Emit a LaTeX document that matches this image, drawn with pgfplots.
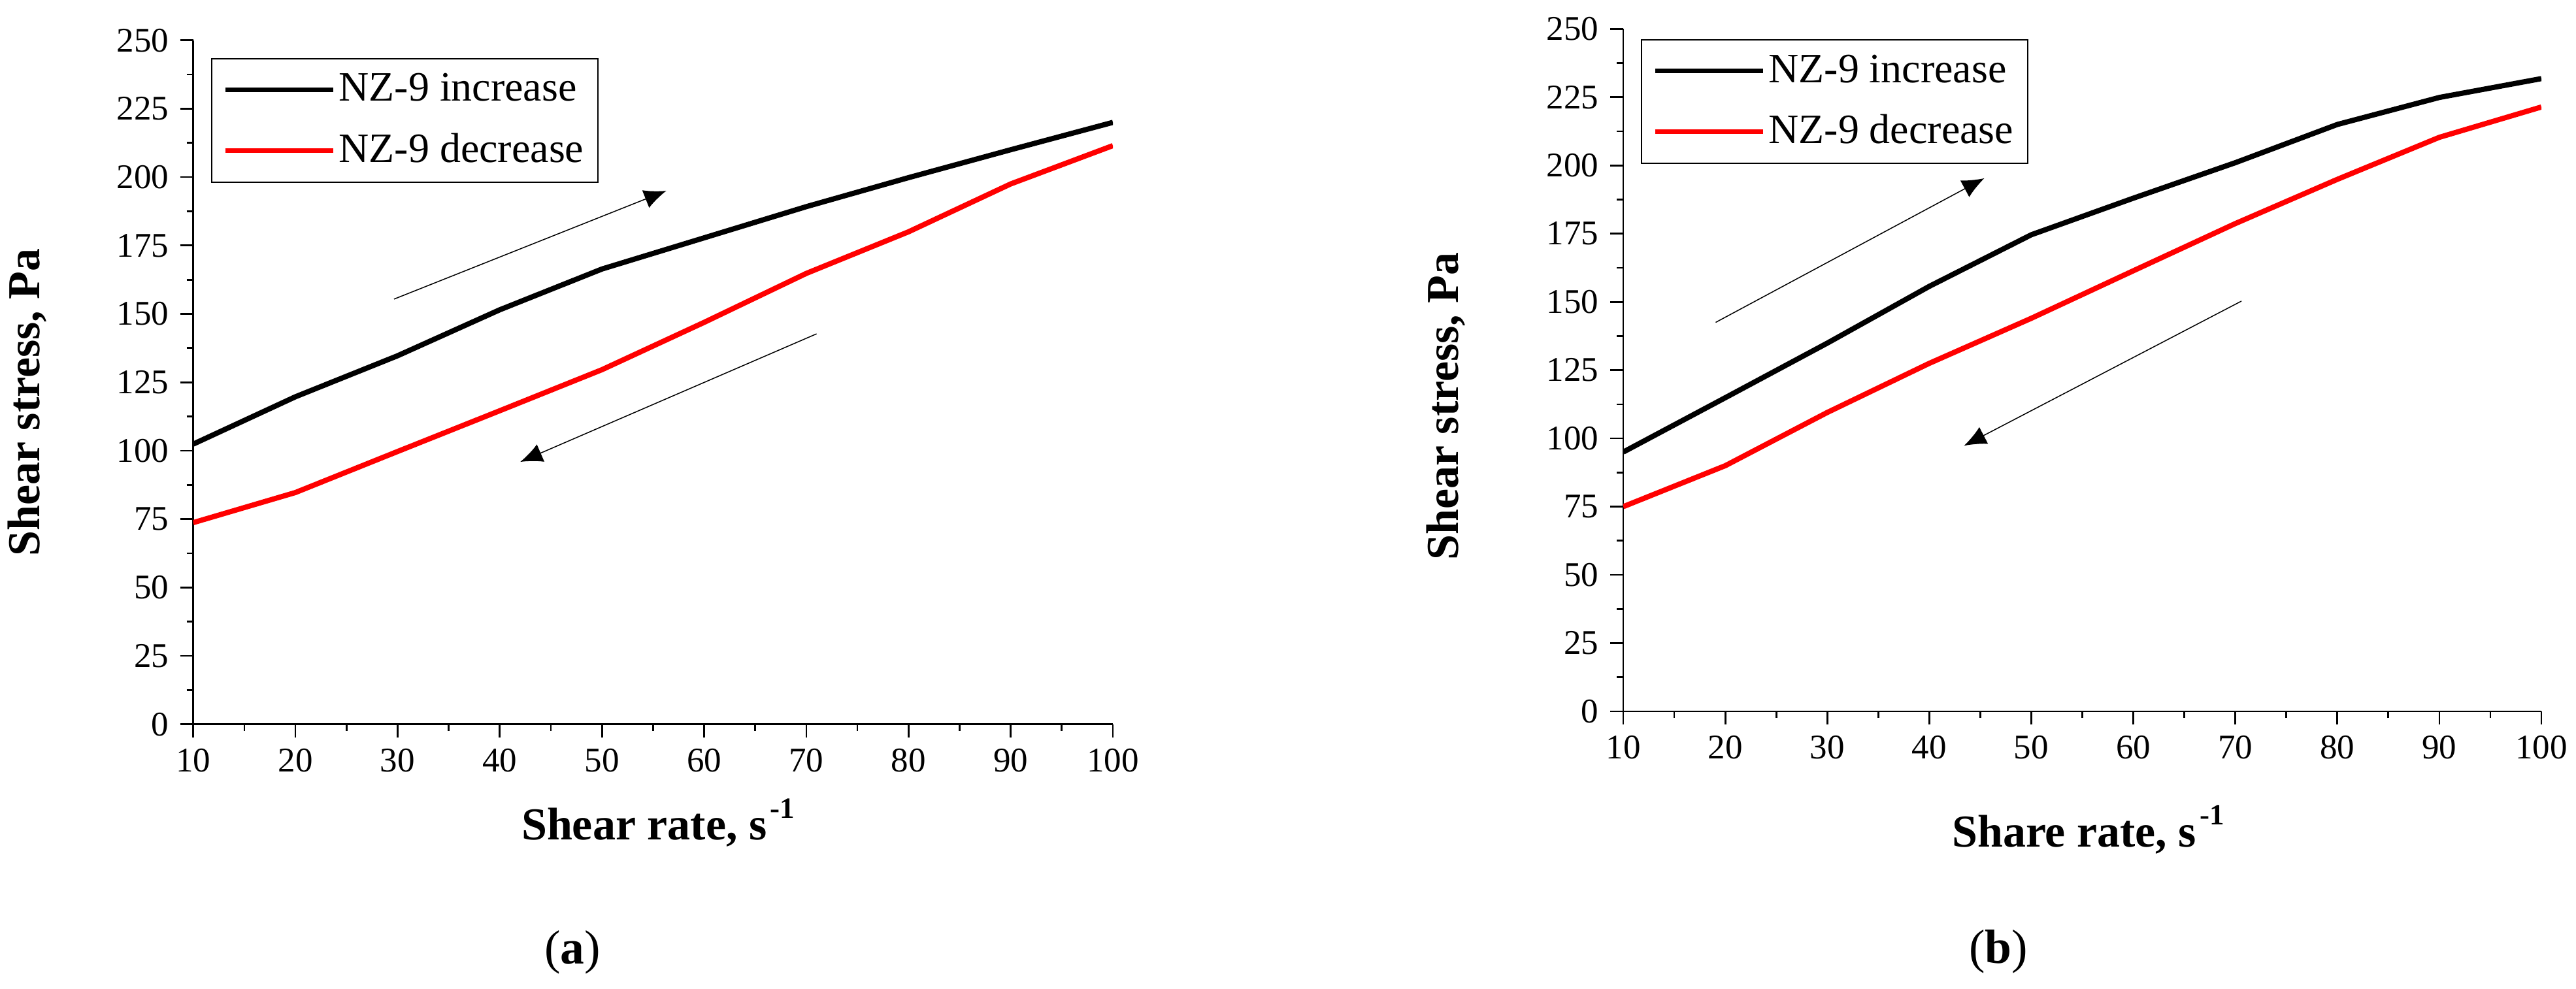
\documentclass[border=0pt]{standalone}
\usepackage{fontspec}
\setmainfont{Liberation Serif}
\usepackage{pgfplots}
\pgfplotsset{compat=1.18}
\usetikzlibrary{arrows.meta}

\tikzset{arr/.style={black, line width=0.3pt, -{Latex[length=6.8pt, width=5.8pt]}}}
\pgfplotsset{
  myaxis/.style={
    scale only axis,
    xmin=10, xmax=100, ymin=0, ymax=250,
    axis lines*=left,
    xtick={10,20,...,100}, ytick={0,25,...,250},
    minor x tick num=1, minor y tick num=1,
    tick align=outside,
    major tick length=4pt, minor tick length=2pt,
    every tick/.style={black, line width=0.55pt},
    axis line style={line width=0.55pt, black},
    tick label style={font=\fontsize{10.6}{12}\selectfont},
    /pgf/number format/assume math mode=true,
    label style={font=\fontsize{14}{16}\selectfont\bfseries},
    legend cell align=left,
    legend image code/.code={\draw[##1, line width=1.45pt] (0pt,0pt) -- (33pt,0pt);},
    legend style={draw=black, line width=0.47pt, anchor=north west,
      font=\fontsize{12.8}{14}\selectfont,
      inner xsep=3.4pt, inner ysep=0.5pt, row sep=0.4pt,
      nodes={inner xsep=1pt, inner ysep=4pt}},
  },
  incr/.style={black, line width=1.6pt},
  decr/.style={red, line width=1.6pt},
}

\begin{document}
\begin{tikzpicture}
\useasboundingbox (0,0) rectangle (788.4pt,302.6pt);

% ---------------- panel (a)
\begin{axis}[myaxis,
  at={(59.14pt,80.86pt)}, anchor=south west,
  width=281.46pt, height=209.4pt,
  xlabel={Shear rate, s\kern1pt\raisebox{6.7pt}{\fontsize{9}{10}\selectfont -1}},
  ylabel={Shear stress, Pa},
  xlabel style={at={(axis description cs:0.5054,-0.1693)}, anchor=base},
  ylabel style={at={(axis description cs:-0.1803,0.4706)}, anchor=center},
  legend style={at={(0.0194,0.974)}},
]
\addplot[incr] coordinates {(10,102.4) (20,119.7) (30,134.7) (40,151.5) (50,166.4) (60,177.8) (70,189.2) (80,199.8) (90,210) (100,220)};
\addlegendentry{NZ-9 increase}
\addplot[decr] coordinates {(10,73.7) (20,84.7) (30,99.7) (40,114.6) (50,129.6) (60,146.9) (70,164.8) (80,180) (90,197.5) (100,211.5)};
\addlegendentry{NZ-9 decrease}
\draw[arr] (axis cs:29.65,155.4) -- (axis cs:56.3,195);
\draw[arr] (axis cs:71.0,142.7) -- (axis cs:42.0,95.9);
\end{axis}

% ---------------- panel (b)
\begin{axis}[myaxis,
  at={(496.8pt,84.8pt)}, anchor=south west,
  width=281pt, height=208.94pt,
  xlabel={Share rate, s\kern1pt\raisebox{6.7pt}{\fontsize{9}{10}\selectfont -1}},
  ylabel={Shear stress, Pa},
  xlabel style={at={(axis description cs:0.5064,-0.1986)}, anchor=base},
  ylabel style={at={(axis description cs:-0.1929,0.4470)}, anchor=center},
  legend style={at={(0.0192,0.985)}},
]
\addplot[incr] coordinates {(10,95) (20,114.9) (30,134.9) (40,155.7) (50,174.6) (60,188) (70,201) (80,215) (90,224.9) (100,231.8)};
\addlegendentry{NZ-9 increase}
\addplot[decr] coordinates {(10,75) (20,90) (30,109.5) (40,127.5) (50,144) (60,161.4) (70,178.7) (80,194.9) (90,210.3) (100,221.4)};
\addlegendentry{NZ-9 decrease}
\draw[arr] (axis cs:19.06,142.5) -- (axis cs:45.4,195.3);
\draw[arr] (axis cs:70.6,150.3) -- (axis cs:43.4,97.3);
\end{axis}

\node[inner sep=0pt, anchor=center, font=\fontsize{14.7}{18}\selectfont] at (175.2pt,11pt) {(\textbf{a})};
\node[inner sep=0pt, anchor=center, font=\fontsize{14.7}{18}\selectfont] at (611.6pt,11.2pt) {(\textbf{b})};
\end{tikzpicture}
\end{document}
